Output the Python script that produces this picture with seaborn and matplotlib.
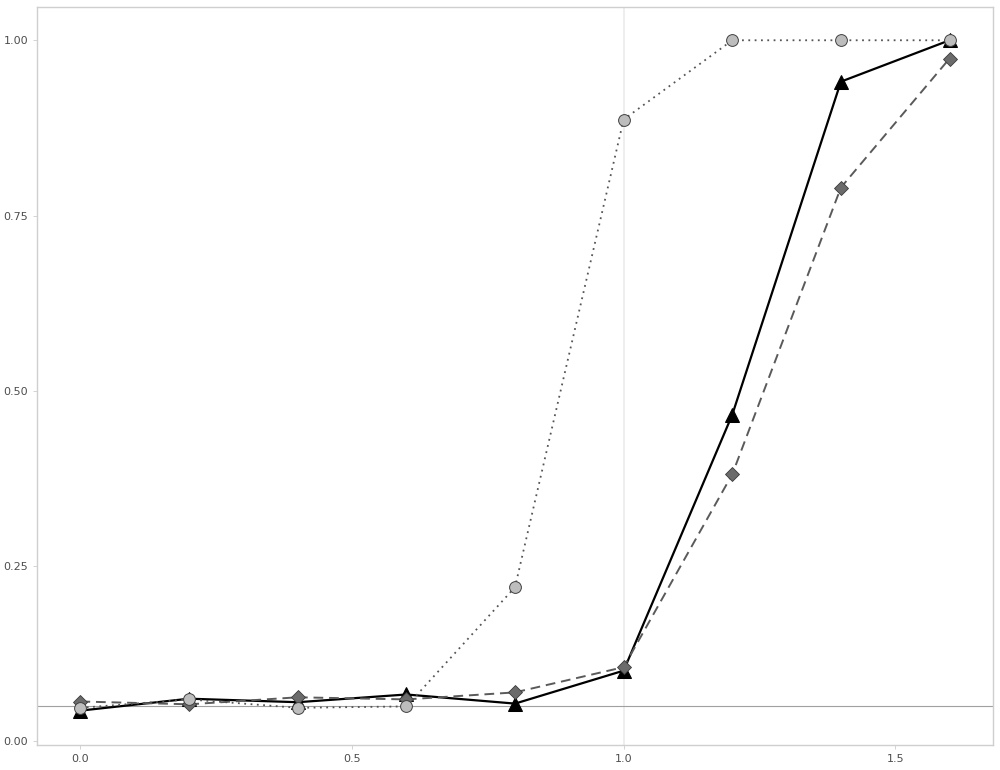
import matplotlib
matplotlib.use("Agg")
import matplotlib.pyplot as plt
import seaborn as sns
import pandas as pd

x_vals = [0.0, 0.2, 0.4, 0.6, 0.8, 1.0, 1.2, 1.4, 1.6]
circles = [0.048, 0.060, 0.048, 0.050, 0.220, 0.887, 1.000, 1.000, 1.000]
triangles = [0.044, 0.061, 0.056, 0.067, 0.054, 0.101, 0.466, 0.941, 1.000]
diamonds = [0.057, 0.053, 0.063, 0.060, 0.070, 0.106, 0.381, 0.790, 0.974]
x_ticks = [0.0, 0.5, 1.0, 1.5]
x_tick_labels = ["0.0", "0.5", "1.0", "1.5"]
y_ticks = [0.0, 0.25, 0.5, 0.75, 1.0]
y_tick_labels = ["0.00", "0.25", "0.50", "0.75", "1.00"]
ref_level = 0.05

sns.set_theme(style="white")
fig = plt.figure(figsize=(10, 7.7), dpi=100)
ax = fig.add_axes([0.037, 0.0325, 0.956, 0.958])

df = pd.DataFrame({"x": x_vals, "c": circles, "t": triangles, "d": diamonds})

ax.axvline(1.0, color="#ebebeb", lw=1.2, zorder=0)
ax.axhline(ref_level, color="#a0a0a0", lw=0.8, zorder=1)

sns.lineplot(data=df, x="x", y="t", ax=ax, color="black", lw=1.6, linestyle="-",
             marker="^", markersize=10, markerfacecolor="black",
             markeredgecolor="black", zorder=3)
sns.lineplot(data=df, x="x", y="d", ax=ax, color="#5a5a5a", lw=1.4, linestyle=(0, (5, 3)),
             marker="D", markersize=7, markerfacecolor="#6b6b6b",
             markeredgecolor="#3a3a3a", markeredgewidth=0.6, zorder=4)
sns.lineplot(data=df, x="x", y="c", ax=ax, color="#555555", lw=1.3, linestyle=(0, (1, 2.5)),
             marker="o", markersize=8.5, markerfacecolor="#bdbdbd",
             markeredgecolor="#404040", markeredgewidth=0.7, zorder=5)

ax.set_xlim(-0.08, 1.68)
ax.set_ylim(-0.005, 1.047)
ax.set_xticks(x_ticks)
ax.set_xticklabels(x_tick_labels)
ax.set_yticks(y_ticks)
ax.set_yticklabels(y_tick_labels)
ax.set_xlabel("")
ax.set_ylabel("")
ax.tick_params(axis="both", labelsize=8, colors="#4d4d4d", length=3, width=0.6,
               direction="out", bottom=True, left=True, color="#cccccc")
for s in ax.spines.values():
    s.set_color("#cfcfcf")
    s.set_linewidth(1.0)
ax.grid(False)

fig.savefig("out.png", dpi=100, facecolor="white")
